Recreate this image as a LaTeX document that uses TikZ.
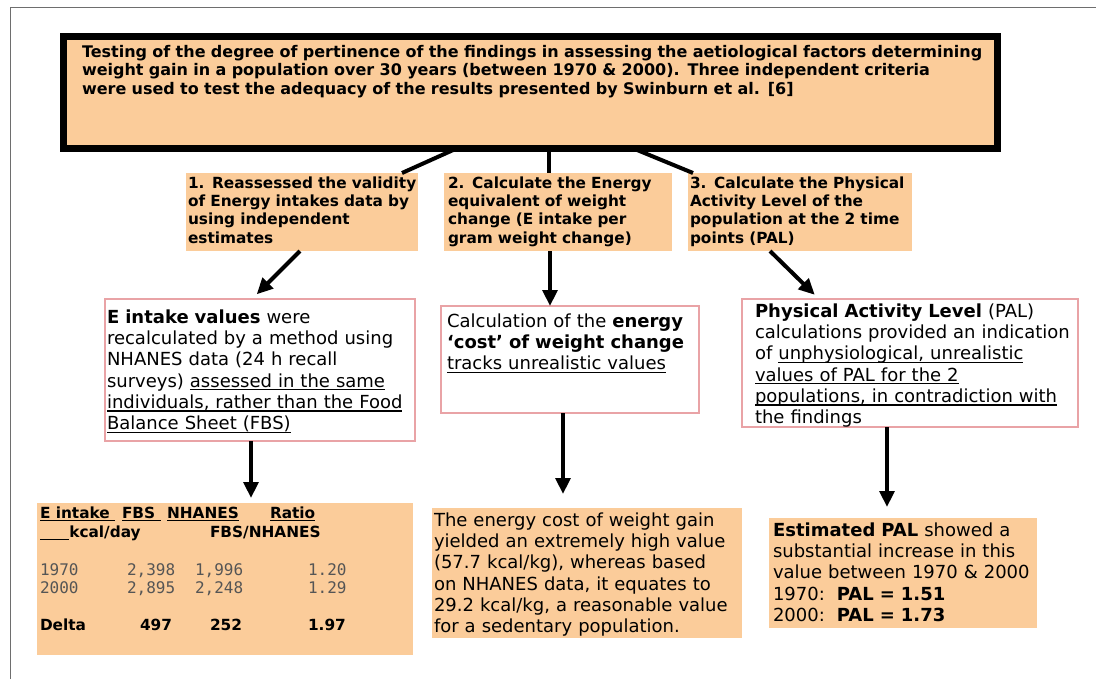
\documentclass[tikz,border=0pt]{standalone}
\usepackage{fontspec}
\setmainfont{DejaVu Sans}
\newfontfamily\numfont{DejaVu Sans Mono}
\newsavebox\myulbox
\newcommand\myul[1]{\leavevmode\sbox\myulbox{#1}\rlap{\rule[-2.4pt]{\wd\myulbox}{0.9pt}}\usebox\myulbox}
\usetikzlibrary{arrows.meta,calc}
\definecolor{peach}{RGB}{251,204,154}
\definecolor{pinkb}{RGB}{233,163,166}
\definecolor{framegray}{RGB}{110,110,110}
\definecolor{numgray}{RGB}{85,85,85}
\begin{document}
\begin{tikzpicture}[x=0.75pt,y=-0.75pt,
  peachbox/.style={fill=peach, draw=none, inner sep=0pt, outer sep=0pt},
  pinkbox/.style={fill=white, draw=pinkb, line width=1.1pt, inner sep=0pt, outer sep=0pt},
  txt/.style={anchor=base west, inner sep=0pt, outer sep=0pt, align=left, text width=#1},
  cell/.style={anchor=base west, inner sep=0pt, outer sep=0pt},
  topfont/.style={font=\fontsize{12}{13.9}\selectfont\bfseries},
  stepfont/.style={font=\fontsize{11.5}{13.75}\selectfont\bfseries},
  bodyfont/.style={font=\fontsize{13.5}{16}\selectfont},
  hdrfont/.style={font=\fontsize{11.5}{13}\selectfont\bfseries},
  numstyle/.style={font=\numfont\fontsize{12}{14}\selectfont, text=numgray},
  conn/.style={line width=3pt},
  arr/.style={line width=3pt, -{Triangle[length=12pt,width=11pt]}}
]
\useasboundingbox (0,0) rectangle (1096,679);
\draw[framegray, line width=0.75pt] (10,679) -- (10,7) -- (1096,7);

% top box
\node[draw=black, fill=peach, line width=5.25pt, minimum width=700.5pt, minimum height=84pt, inner sep=0pt, outer sep=0pt] (top) at (530.5,92.5) {};
\node[txt=730pt, topfont] (toptx) at (82,57) {Testing of the degree of pertinence\ of the findings in assessing\ the aetiological factors determining\\
weight gain in a population\ over 30 years (between 1970 \& 2000). Three\ independent\ criteria\\
were used to test the adequacy\ of the results presented\ by Swinburn\ et al. [6]};

% step boxes
\node[peachbox, minimum width=174pt, minimum height=58.5pt] (b1) at (302,212) {};
\node[peachbox, minimum width=171pt, minimum height=58.5pt] (b2) at (558,212) {};
\node[peachbox, minimum width=168pt, minimum height=58.5pt] (b3) at (800,212) {};
\node[txt=200pt, stepfont] (b1t) at (188,188) {1. Reassessed\ the validity\\of Energy\ intakes data by\\using\ independent\\estimates};
\node[txt=200pt, stepfont] (b2t) at (448,188) {2. Calculate the Energy\\equivalent of weight\\change (E intake per\\gram weight change)};
\node[txt=200pt, stepfont] (b3t) at (690,188) {3. Calculate the Physical\\Activity Level of the\\population\ at the 2 time\\points (PAL)};

\draw[conn] ($(top.south)+(-74,0)$) -- ($(b1.north)+(100,0)$);
\draw[conn] ($(top.south)+(18.5,0)$) -- ($(b2.north)+(-9,0)$);
\draw[conn] ($(top.south)+(103,0)$) -- ($(b3.north)+(-107,0)$);

% second row
\node[pinkbox, minimum width=232.5pt, minimum height=106.5pt] (A) at (260,370) {};
\node[pinkbox, minimum width=193.5pt, minimum height=80.25pt] (B) at (570,359.5) {};
\node[pinkbox, minimum width=252pt, minimum height=96pt] (C) at (910,363) {};
\node[txt=240pt, bodyfont] (At) at (107,323) {\textbf{E intake values} were\\recalculated by a method using\\NHANES data (24 h recall\\surveys) \myul{assessed in the same}\\\myul{individuals, rather than the Food}\\\myul{Balance Sheet (FBS)}};
\node[txt=200pt, bodyfont] (Bt) at (447,327) {Calculation of the\ \textbf{energy}\\\textbf{‘cost’ of weight change}\\\myul{tracks unrealistic values}};
\node[txt=250pt, bodyfont] (Ct) at (755,317) {\textbf{Physical Activity Level} (PAL)\\calculations provided an indication\\of \myul{unphysiological, unrealistic}\\\myul{values of PAL for the 2}\\\myul{populations, in contradiction with}\\the findings};

\draw[arr, shorten >=5pt] ($(b1.south)+(-2,0)$) -- ($(A.north)+(-8,0)$);
\draw[arr] ($(b2.south)+(-8,0)$) -- ($(B.north)+(-20,0)$);
\draw[arr, shorten >=4.5pt] ($(b3.south)+(-30,0)$) -- ($(C.north)+(-91,0)$);

% third row
\node[peachbox, minimum width=282pt, minimum height=114pt] (T) at (225,579) {};
\node[peachbox, minimum width=232.5pt, minimum height=97.5pt] (E) at (587,573) {};
\node[peachbox, minimum width=201pt, minimum height=82.5pt] (F) at (903,573) {};

\draw[arr, shorten >=3.75pt] ($(A.south)+(-9,0)$) -- ($(T.north)+(26,0)$);
\draw[arr, shorten >=10.5pt] ($(B.south)+(-7,0)$) -- ($(E.north)+(-24,0)$);
\draw[arr, shorten >=8.25pt] ($(C.south)+(-23,0)$) -- ($(F.north)+(-16,0)$);

% table
\node[cell, hdrfont] (h1) at (40,518) {\myul{E intake\ }};
\node[cell, hdrfont] (h2) at (122,518) {\myul{FBS\ }};
\node[cell, hdrfont] (h3) at (167,518) {\myul{NHANES}};
\node[cell, hdrfont] (h4) at (270,518) {\myul{Ratio}};
\node[cell, hdrfont] (h5) at (40,537) {\rule[-2.4pt]{22pt}{0.9pt}kcal/day};
\node[cell, hdrfont] (h6) at (210,537) {FBS/NHANES};
\node[cell, numstyle] (r1a) at (40,575) {1970};
\node[cell, numstyle] (r1b) at (127,575) {2,398};
\node[cell, numstyle] (r1c) at (195,575) {1,996};
\node[cell, numstyle] (r1d) at (308,575) {1.20};
\node[cell, numstyle] (r2a) at (40,593) {2000};
\node[cell, numstyle] (r2b) at (127,593) {2,895};
\node[cell, numstyle] (r2c) at (195,593) {2,248};
\node[cell, numstyle] (r2d) at (308,593) {1.29};
\node[cell, hdrfont] (d1) at (40,630) {Delta};
\node[cell, hdrfont] (d2) at (140,630) {497};
\node[cell, hdrfont] (d3) at (210,630) {252};
\node[cell, hdrfont] (d4) at (308,630) {1.97};

\node[txt=240pt, bodyfont] (Et) at (434,526) {The energy cost of weight gain\\yielded an extremely high value\\(57.7 kcal/kg), whereas based\\on NHANES data, it equates to\\29.2 kcal/kg, a reasonable value\\for a sedentary population.};
\node[txt=220pt, bodyfont] (Ft) at (773,536) {\textbf{Estimated PAL} showed a\\substantial increase in this\\value between 1970 \& 2000\\1970:\ \ \textbf{PAL = 1.51}\\2000:\ \ \textbf{PAL = 1.73}};
\end{tikzpicture}
\end{document}
